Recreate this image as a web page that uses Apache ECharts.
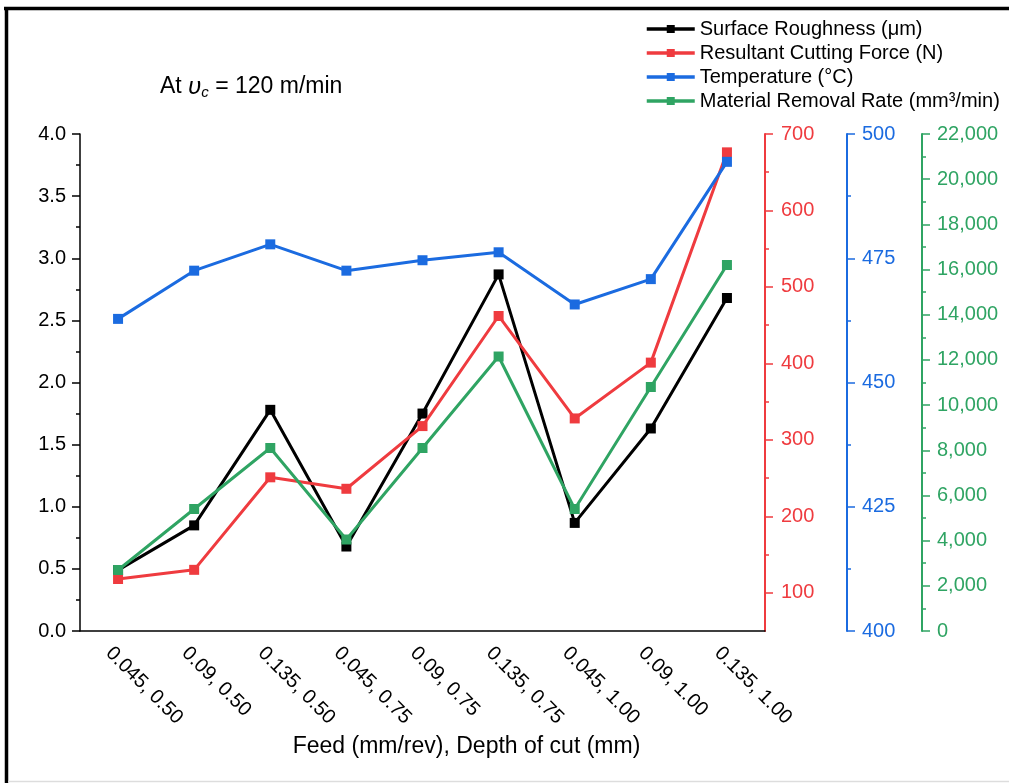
<!DOCTYPE html>
<html>
<head>
<meta charset="utf-8">
<title>Machining responses vs feed and depth of cut</title>
<script src="https://cdn.jsdelivr.net/npm/echarts@6/dist/echarts.min.js"></script>
<style>
  html, body { margin: 0; padding: 0; background: #fff; }
  #chart { width: 1009px; height: 783px; }
</style>
</head>
<body>
<div id="chart"></div>
<script>
// Feed (mm/rev), depth of cut (mm) combinations
const categories = ['0.045, 0.50', '0.09, 0.50', '0.135, 0.50',
                    '0.045, 0.75', '0.09, 0.75', '0.135, 0.75',
                    '0.045, 1.00', '0.09, 1.00', '0.135, 1.00'];

// Measured responses at each combination
const roughness   = [0.49, 0.85, 1.78, 0.68, 1.75, 2.87, 0.87, 1.63, 2.68];      // µm
const force       = [118, 130, 251, 236, 318, 462, 328, 401, 676];                 // N
const temperature = [462.8, 472.5, 477.8, 472.5, 474.6, 476.2, 465.7, 470.8, 494.4]; // °C
const mrr         = [2700, 5400, 8100, 4050, 8100, 12150, 5400, 10800, 16200];     // mm³/min

// Tick positions for the force axis (its range starts at 50)
const forceTicks      = [100, 200, 300, 400, 500, 600, 700];
const forceMinorTicks = [150, 250, 350, 450, 550, 650];

const names = ['Surface Roughness (μm)', 'Resultant Cutting Force (N)',
               'Temperature (°C)', 'Material Removal Rate (mm³/min)'];
const colors = ['#000000', '#EF3B3F', '#1B6BE0', '#2FA463'];

const FONT = '"Liberation Sans", Arial, Helvetica, sans-serif';
const labelSize = 20;

function rightAxis(color, offset, extra) {
  return Object.assign({
    type: 'value',
    position: 'right',
    offset: offset,
    splitLine: { show: false },
    axisLine: { show: true, lineStyle: { color: color, width: 2 } },
    axisTick: { show: true, length: 8, lineStyle: { color: color, width: 1.5 } },
    minorTick: { show: true, splitNumber: 2, length: 4, lineStyle: { color: color, width: 1.5 } },
    axisLabel: { color: color, fontSize: labelSize, fontFamily: FONT, margin: 15 }
  }, extra);
}

const chart = echarts.init(document.getElementById('chart'), null, { renderer: 'canvas' });

const series = [roughness, force, temperature, mrr].map((data, i) => ({
  name: names[i],
  type: 'line',
  yAxisIndex: i,
  data: data,
  symbol: 'rect',
  symbolSize: 10,
  lineStyle: { color: colors[i], width: 3 },
  itemStyle: { color: colors[i] },
  emphasis: { disabled: true },
  animation: false,
  z: 2 + i
}));

chart.setOption({
  backgroundColor: '#ffffff',
  animation: false,
  textStyle: { fontFamily: FONT },
  grid: { left: 80, right: 244, top: 134, bottom: 152, containLabel: false },
  legend: {
    data: names,
    orient: 'vertical',
    left: 645,
    top: 19,
    padding: 0,
    itemWidth: 48,
    itemHeight: 10,
    itemGap: 4,
    lineStyle: { width: 3.5 },
    textStyle: { fontSize: 20, color: '#000', fontFamily: FONT },
    selectedMode: false
  },
  xAxis: {
    type: 'category',
    data: categories,
    boundaryGap: true,
    name: 'Feed (mm/rev), Depth of cut (mm)',
    nameLocation: 'middle',
    nameGap: 103,
    nameTextStyle: { fontSize: 23, color: '#000', fontFamily: FONT, padding: [0, 0, 0, 88] },
    axisLine: { lineStyle: { color: '#000', width: 1.5 } },
    axisTick: { alignWithLabel: true, length: 8, lineStyle: { color: '#000', width: 1.5 } },
    axisLabel: { rotate: -45, margin: 10, fontSize: labelSize, color: '#000', fontFamily: FONT,
                 interval: 0, verticalAlign: 'top', padding: [3, 0, 0, 0] },
    splitLine: { show: false }
  },
  yAxis: [
    {
      type: 'value',
      position: 'left',
      min: 0, max: 4, interval: 0.5,
      splitLine: { show: false },
      axisLine: { show: true, lineStyle: { color: '#000', width: 1.5 } },
      axisTick: { show: true, length: 8, lineStyle: { color: '#000', width: 1.5 } },
      minorTick: { show: true, splitNumber: 2, length: 4, lineStyle: { color: '#000', width: 1.5 } },
      axisLabel: { color: '#000', fontSize: labelSize, fontFamily: FONT, margin: 14,
                   formatter: v => v.toFixed(1) }
    },
    rightAxis(colors[1], 0, {
      min: 50, max: 700,
      minorTick: { show: false },
      axisTick: { show: true, length: 8, customValues: forceTicks, lineStyle: { color: colors[1], width: 1.5 } },
      axisLabel: { color: colors[1], fontSize: labelSize, fontFamily: FONT, margin: 16, customValues: forceTicks }
    }),
    rightAxis(colors[2], 82, { min: 400, max: 500, interval: 25 }),
    rightAxis(colors[3], 157, {
      min: 0, max: 22000, interval: 2000,
      axisLabel: { color: colors[3], fontSize: labelSize, fontFamily: FONT, margin: 15,
                   formatter: v => v.toLocaleString('en-US') }
    }),
    // minor ticks of the force axis
    rightAxis(colors[1], 0, {
      min: 50, max: 700,
      axisLine: { show: false },
      minorTick: { show: false },
      axisTick: { show: true, length: 4, customValues: forceMinorTicks, lineStyle: { color: colors[1], width: 1.5 } },
      axisLabel: { show: false }
    })
  ],
  series: series,
  graphic: [
    // figure frame
    { type: 'line', shape: { x1: 4, y1: 8.5, x2: 1009, y2: 8.5 }, style: { stroke: '#000', lineWidth: 3.5 }, silent: true },
    { type: 'line', shape: { x1: 6.5, y1: 7, x2: 6.5, y2: 783 }, style: { stroke: '#000', lineWidth: 3.5 }, silent: true },
    { type: 'line', shape: { x1: 8, y1: 781.5, x2: 1009, y2: 781.5 }, style: { stroke: '#dddddd', lineWidth: 1.5 }, silent: true },
    {
      type: 'text',
      left: 160,
      top: 75,
      silent: true,
      style: {
        text: 'At {v|υ}{s|c} = 120 m/min',
        font: '23px ' + FONT,
        fill: '#000',
        rich: {
          v: { fontStyle: 'italic', fontSize: 24, fontFamily: FONT, fill: '#000' },
          s: { fontStyle: 'italic', fontSize: 15, fontFamily: FONT, fill: '#000', verticalAlign: 'bottom', padding: [12, 0, 0, 0] }
        }
      }
    }
  ]
});
</script>
</body>
</html>
